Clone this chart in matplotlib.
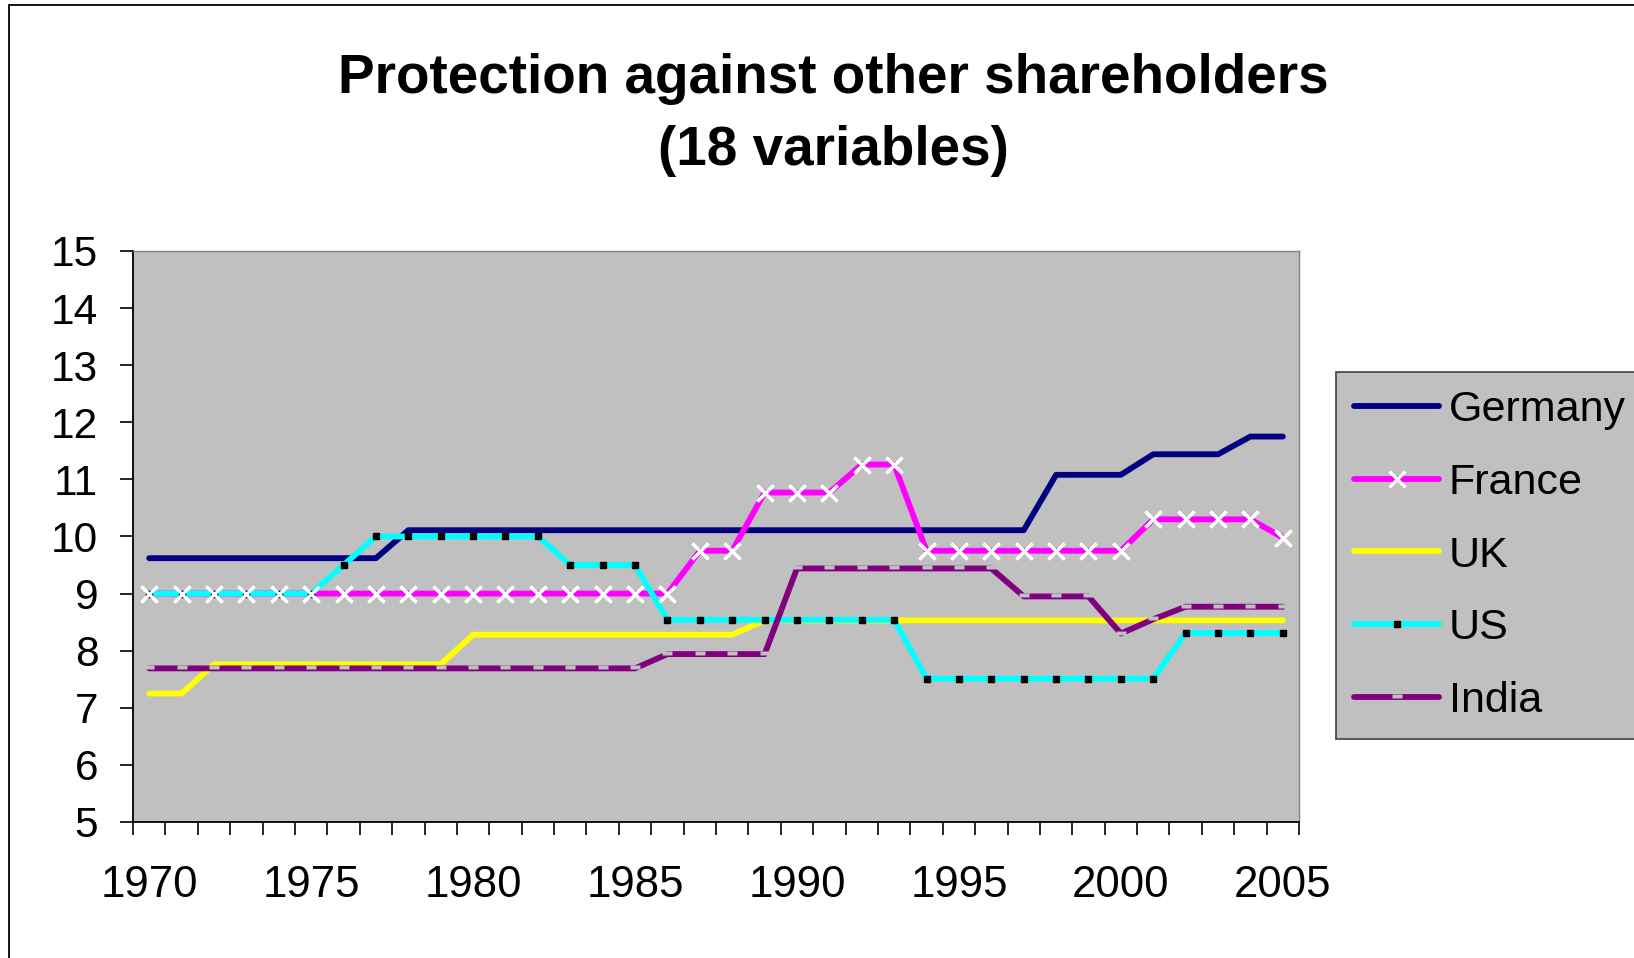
import numpy as np
import matplotlib
matplotlib.use('Agg')
import matplotlib.pyplot as plt
from matplotlib.patches import Rectangle
from matplotlib.path import Path

plt.rcParams['font.family'] = ['Liberation Sans', 'DejaVu Sans']

years = list(range(1970, 2006))

germany = [9.62, 9.62, 9.62, 9.62, 9.62, 9.62, 9.62, 9.62,
           10.11, 10.11, 10.11, 10.11, 10.11, 10.11, 10.11, 10.11, 10.11, 10.11,
           10.11, 10.11, 10.11, 10.11, 10.11, 10.11, 10.11, 10.11, 10.11, 10.11,
           11.08, 11.08, 11.08, 11.44, 11.44, 11.44, 11.75, 11.75]
france = [9.0, 9.0, 9.0, 9.0, 9.0, 9.0, 9.0, 9.0, 9.0, 9.0, 9.0, 9.0, 9.0, 9.0, 9.0, 9.0, 9.0,
          9.75, 9.75, 10.77, 10.77, 10.77, 11.26, 11.26,
          9.75, 9.75, 9.75, 9.75, 9.75, 9.75, 9.75,
          10.3, 10.3, 10.3, 10.3, 9.98]
uk = [7.25, 7.25, 7.76, 7.76, 7.76, 7.76, 7.76, 7.76, 7.76, 7.76,
      8.28, 8.28, 8.28, 8.28, 8.28, 8.28, 8.28, 8.28, 8.28,
      8.53, 8.53, 8.53, 8.53, 8.53, 8.53, 8.53, 8.53, 8.53, 8.53, 8.53, 8.53,
      8.53, 8.53, 8.53, 8.53, 8.53]
us = [9.0, 9.0, 9.0, 9.0, 9.0, 9.0, 9.5, 10.0, 10.0, 10.0, 10.0, 10.0, 10.0,
      9.5, 9.5, 9.5, 8.54, 8.54, 8.54, 8.54, 8.54, 8.54, 8.54, 8.54,
      7.51, 7.51, 7.51, 7.51, 7.51, 7.51, 7.51, 7.51, 8.31, 8.31, 8.31, 8.31]
india = [7.69, 7.69, 7.69, 7.69, 7.69, 7.69, 7.69, 7.69, 7.69, 7.69, 7.69, 7.69, 7.69, 7.69, 7.69, 7.69,
         7.94, 7.94, 7.94, 7.94, 9.44, 9.44, 9.44, 9.44, 9.44, 9.44, 9.44,
         8.95, 8.95, 8.95, 8.3, 8.55, 8.77, 8.77, 8.77, 8.77]

grey = '#C0C0C0'
lw = 4.2

# small notch marker for India (sits on the upper half of the line)
notch = Path([(-1, -0.1), (1, -0.1), (1, 0.6), (-1, 0.6), (-1, -0.1)],
             [Path.MOVETO, Path.LINETO, Path.LINETO, Path.LINETO, Path.CLOSEPOLY])

fig = plt.figure(figsize=(16.34, 9.58), dpi=100)
ax = fig.add_axes([0.0814, 0.142, 0.7136, 0.596])
ax.set_facecolor(grey)

ax.plot(years, germany, color='#000080', lw=lw, solid_capstyle='round', label='Germany')
ax.plot(years, france, color='#FF00FF', lw=lw, solid_capstyle='round',
        marker='x', ms=11, mew=2.3, mec='white', label='France')
ax.plot(years, uk, color='#FFFF00', lw=lw, solid_capstyle='round', label='UK')
ax.plot(years, us, color='#00FFFF', lw=lw, solid_capstyle='round',
        marker='s', ms=4.6, mfc='black', mec='black', label='US')
ax.plot(years, india, color='#800080', lw=lw, solid_capstyle='round',
        marker=notch, ms=7.2, mfc=grey, mec='none', label='India')
# France crosses drawn above the other lines
ax.plot(years, france, ls='none', marker='x', ms=11, mew=2.3, mec='white', zorder=3)

ax.set_xlim(1969.5, 2005.5)
ax.set_ylim(5, 15)
ax.set_yticks(range(5, 16))
ax.set_xticks(range(1970, 2006, 5))
ax.set_xticks(np.arange(1969.5, 2006, 1), minor=True)
ax.tick_params(axis='x', which='major', length=0, labelsize=31.5, pad=31)
ax.tick_params(axis='x', which='minor', length=9.5, width=1.2, direction='out')
ax.tick_params(axis='y', length=9.5, width=1.2, labelsize=30.5, pad=15.5)

for s in ['left', 'bottom']:
    ax.spines[s].set_color('black')
    ax.spines[s].set_linewidth(1.3)
for s in ['top', 'right']:
    ax.spines[s].set_color('#808080')
    ax.spines[s].set_linewidth(1.0)

fig.text(0.51, 0.880, 'Protection against other shareholders\n(18 variables)',
         ha='center', va='center', fontsize=39.5, fontweight='bold', linespacing=1.49)

leg = ax.legend(loc='upper left', bbox_to_anchor=(0.8176, 0.6117),
                bbox_transform=fig.transFigure, fontsize=31, frameon=True,
                fancybox=False, facecolor=grey, edgecolor='#404040', framealpha=1,
                handlelength=1.98, handletextpad=0.22, labelspacing=0.76,
                borderpad=0.42, borderaxespad=0, numpoints=1)
leg.get_frame().set_linewidth(1.2)

# outer chart border
fig.patches.append(Rectangle((9 / 1634, -0.05), 1.1, 1 - 5 / 958 + 0.05,
                             transform=fig.transFigure, fill=False,
                             edgecolor='black', lw=1.3, clip_on=False))

plt.savefig('out.png', dpi=100)
